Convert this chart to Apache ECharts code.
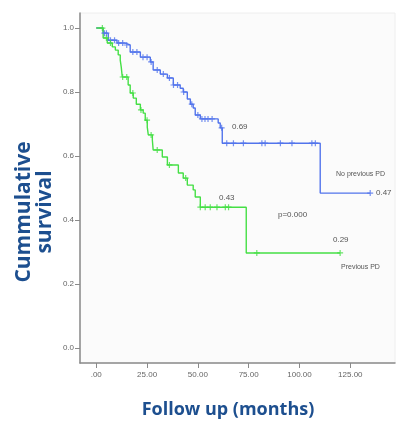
<!DOCTYPE html>
<html><head><meta charset="utf-8">
<script src="https://cdn.jsdelivr.net/npm/echarts@6/dist/echarts.min.js"></script>
<style>html,body{margin:0;padding:0;background:#fff}#c{width:416px;height:426px}</style>
</head><body><div id="c"></div>
<script>
// Kaplan-Meier steps: [month, survival]
const noPrevTimes = [0, 3.4, 5.9, 10.2, 14.3, 16.7, 21.7, 26.6, 28, 31.5, 35, 37.9, 41.3, 42.8, 44.8, 46.3, 47.7, 48.7, 51.2, 60, 61, 62, 62.5, 110.2, 134.8];
const noPrevSurv  = [1.0, 0.984, 0.962, 0.953, 0.947, 0.925, 0.909, 0.894, 0.869, 0.856, 0.844, 0.822, 0.812, 0.8, 0.778, 0.762, 0.75, 0.728, 0.716, 0.703, 0.688, 0.64, 0.64, 0.484, 0.484];
const noPrevCensor = [4, 5, 7, 9, 11, 13, 15, 18, 20, 23, 25, 27, 30, 33, 36, 38, 40, 43, 47, 50, 52, 53.5, 55, 57, 61.7, 64.2, 67.5, 72.4, 81.5, 83.1, 90.6, 96.3, 106.1, 107.8, 134.8];

const prevTimes = [0, 3.4, 5.4, 7.9, 9.4, 10.8, 11.8, 12.3, 12.8, 15.7, 16.7, 18.2, 19.7, 21.7, 23.1, 24.1, 25.1, 25.6, 27.6, 28, 32.5, 35, 40.4, 42.8, 44.8, 47.7, 48.7, 51.2, 73.8, 120];
const prevSurv  = [1.0, 0.969, 0.953, 0.941, 0.931, 0.916, 0.9, 0.878, 0.847, 0.822, 0.797, 0.781, 0.762, 0.744, 0.734, 0.712, 0.69, 0.666, 0.65, 0.619, 0.597, 0.572, 0.547, 0.531, 0.509, 0.494, 0.472, 0.44, 0.297, 0.297];
const prevCensor = [3, 5, 7, 13, 15, 18, 22, 25, 27, 30, 36, 44, 51.2, 53.6, 56.1, 59.4, 63.5, 65.1, 79, 120];

const xTicks = [0, 25, 50, 75, 100, 125];
const yTicks = [0, 0.2, 0.4, 0.6, 0.8, 1.0];

const BLUE = '#5274ec', GREEN = '#45df45';

function survAt(times, surv, t) {
  let s = surv[0];
  for (let i = 0; i < times.length; i++) { if (times[i] <= t) s = surv[i]; }
  return s;
}
const plus = 'path://M4,0h2v4h4v2h-4v4h-2v-4h-4v-2h4z';

const chart = echarts.init(document.getElementById('c'), null, {renderer: 'canvas'});
chart.setOption({
  animation: false,
  backgroundColor: '#fff',
  grid: {left: 80, top: 13, right: 21, bottom: 63, show: true, backgroundColor: '#fbfbfb', borderColor: '#eeeeee', borderWidth: 1},
  xAxis: {
    type: 'value', min: -8, max: 147,
    splitLine: {show: false},
    axisLine: {show: true, onZero: false, lineStyle: {color: '#8a8a8a', width: 1.5}},
    axisTick: {show: true, customValues: xTicks, length: 5, lineStyle: {color: '#8a8a8a'}},
    axisLabel: {customValues: xTicks, color: '#666', fontSize: 8, fontFamily: 'Liberation Sans', margin: 8,
      formatter: v => v === 0 ? '.00' : v.toFixed(2)}
  },
  yAxis: {
    type: 'value', min: -0.047, max: 1.047,
    splitLine: {show: false},
    axisLine: {show: true, onZero: false, lineStyle: {color: '#8a8a8a', width: 1.5}},
    axisTick: {show: true, customValues: yTicks, length: 5, lineStyle: {color: '#8a8a8a'}},
    axisLabel: {customValues: yTicks, color: '#666', fontSize: 8, fontFamily: 'Liberation Sans', margin: 6,
      formatter: v => v.toFixed(1)}
  },
  series: [
    {type: 'line', step: 'end', symbol: 'none', data: noPrevTimes.map((t, i) => [t, noPrevSurv[i]]),
      lineStyle: {color: BLUE, width: 1.4}, z: 2},
    {type: 'line', step: 'end', symbol: 'none', data: prevTimes.map((t, i) => [t, prevSurv[i]]),
      lineStyle: {color: GREEN, width: 1.4}, z: 3},
    {type: 'scatter', symbol: plus, symbolSize: 6, data: noPrevCensor.map(t => [t, survAt(noPrevTimes, noPrevSurv, t)]),
      itemStyle: {color: BLUE}, z: 4},
    {type: 'scatter', symbol: plus, symbolSize: 6, data: prevCensor.map(t => [t, survAt(prevTimes, prevSurv, t)]),
      itemStyle: {color: GREEN}, z: 5}
  ],
  graphic: [
    {type: 'text', x: 232, y: 123, style: {text: '0.69', fontSize: 8, fill: '#555', fontFamily: 'Liberation Sans'}},
    {type: 'text', x: 219, y: 194, style: {text: '0.43', fontSize: 8, fill: '#555', fontFamily: 'Liberation Sans'}},
    {type: 'text', x: 278, y: 211, style: {text: 'p=0.000', fontSize: 8, fill: '#555', fontFamily: 'Liberation Sans'}},
    {type: 'text', x: 336, y: 171, style: {text: 'No previous PD', fontSize: 7, fill: '#555', fontFamily: 'Liberation Sans'}},
    {type: 'text', x: 376, y: 189, style: {text: '0.47', fontSize: 8, fill: '#555', fontFamily: 'Liberation Sans'}},
    {type: 'text', x: 333, y: 236, style: {text: '0.29', fontSize: 8, fill: '#555', fontFamily: 'Liberation Sans'}},
    {type: 'text', x: 341, y: 264, style: {text: 'Previous PD', fontSize: 7, fill: '#555', fontFamily: 'Liberation Sans'}},
    {type: 'text', x: 228, y: 410, style: {text: 'Follow up (months)', fontSize: 18, fontWeight: 'bold', fill: '#1d4f8f', fontFamily: 'Open Sans', align: 'center', verticalAlign: 'middle'}},
    {type: 'text', x: 35, y: 212, rotation: Math.PI / 2, style: {text: 'Cummulative\nsurvival', fontSize: 21, lineHeight: 21, fontWeight: 'bold', fill: '#1d4f8f', fontFamily: 'Open Sans', align: 'center', verticalAlign: 'middle'}}
  ]
});
</script></body></html>
